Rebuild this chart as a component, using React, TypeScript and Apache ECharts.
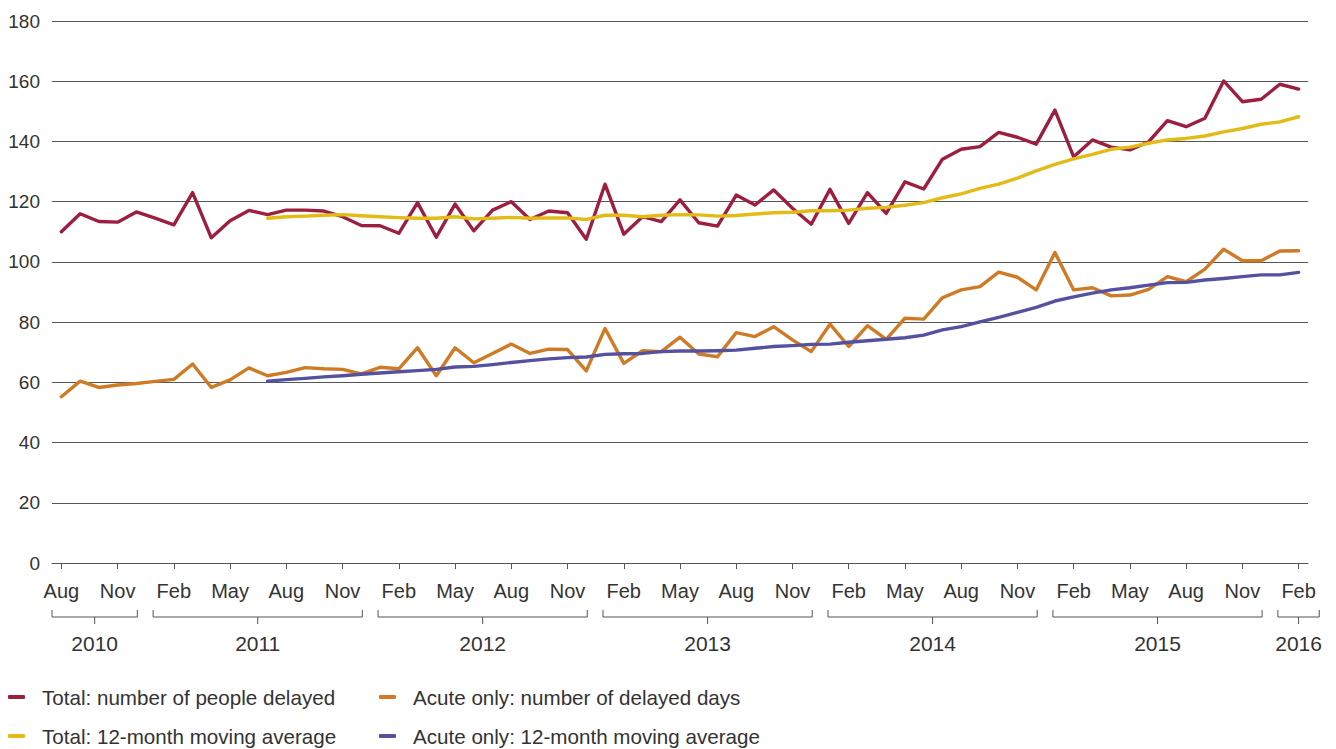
import React, { useEffect, useRef } from "react";
import * as echarts from "echarts";

const MONTHS = ["Jan", "Feb", "Mar", "Apr", "May", "Jun", "Jul", "Aug", "Sep", "Oct", "Nov", "Dec"];

// Aug 2010 .. Feb 2016 (67 months)
const categories: string[] = [];
for (let y = 2010, m = 7; y < 2016 || (y === 2016 && m <= 1); ) {
  categories.push(MONTHS[m] + " " + y);
  m++;
  if (m === 12) { m = 0; y++; }
}

const yTicks = { min: 0, max: 180, interval: 20 };

const totalDelayed = [
  110, 116, 113.4, 113.2, 116.6, 114.5, 112.3, 123, 108, 113.7,
  117.1, 115.7, 117.2, 117.2, 116.9, 115, 112.1, 112, 109.5, 119.7,
  108.2, 119.2, 110.3, 117.2, 120, 114.1, 116.9, 116.3, 107.5, 125.8,
  109.2, 115, 113.4, 120.6, 113, 111.9, 122.2, 118.9, 123.9, 117.8,
  112.5, 124.1, 112.8, 123, 116.1, 126.6, 124.2, 134.1, 137.4, 138.3,
  143, 141.4, 139.1, 150.4, 134.9, 140.5, 138.1, 137.2, 139.9, 146.9,
  144.9, 147.7, 160.1, 153.2, 154, 159, 157.4,
];

const totalMA = [
  null, null, null, null, null, null, null, null, null, null,
  null, 114.5, 115.0, 115.2, 115.5, 115.7, 115.3, 115.0, 114.7, 114.5,
  114.5, 115, 114.3, 114.5, 114.8, 114.5, 114.6, 114.6, 114.1, 115.5,
  115.5, 115, 115.5, 115.7, 115.6, 115.2, 115.4, 115.9, 116.3, 116.5,
  117, 117, 117.2, 117.8, 118.1, 118.8, 119.7, 121.3, 122.6, 124.4,
  125.8, 127.8, 130.2, 132.4, 134.2, 135.7, 137.4, 138.1, 139.4, 140.5,
  141, 141.8, 143.2, 144.3, 145.7, 146.5, 148.2,
];

const acuteDays = [
  55.2, 60.4, 58.3, 59.1, 59.6, 60.3, 61, 66.1, 58.3, 60.8,
  64.8, 62.2, 63.3, 64.9, 64.5, 64.3, 62.8, 65, 64.5, 71.5,
  62.2, 71.5, 66.5, 69.6, 72.7, 69.6, 71, 70.9, 63.8, 77.9,
  66.3, 70.5, 70.2, 75, 69.4, 68.5, 76.5, 75.2, 78.5, 74.1,
  70.2, 79.3, 71.9, 78.8, 74.3, 81.3, 81, 88.1, 90.7, 91.8,
  96.6, 94.9, 90.7, 103.1, 90.7, 91.4, 88.7, 89, 90.9, 95.1,
  93.4, 97.6, 104.2, 100.4, 100.4, 103.6, 103.7,
];

const acuteMA = [
  null, null, null, null, null, null, null, null, null, null,
  null, 60.4, 60.9, 61.3, 61.8, 62.2, 62.7, 63.1, 63.5, 63.9,
  64.3, 65.1, 65.3, 65.9, 66.6, 67.2, 67.8, 68.2, 68.4, 69.3,
  69.5, 69.6, 70.2, 70.4, 70.4, 70.5, 70.7, 71.3, 71.9, 72.2,
  72.6, 72.7, 73.3, 73.8, 74.3, 74.8, 75.7, 77.4, 78.5, 80.1,
  81.6, 83.2, 84.9, 87, 88.4, 89.6, 90.7, 91.4, 92.3, 93.1,
  93.2, 94, 94.5, 95.1, 95.7, 95.7, 96.5,
];

const seriesNames = [
  "Total: number of people delayed",
  "Total: 12-month moving average",
  "Acute only: number of delayed days",
  "Acute only: 12-month moving average",
];
const colors = ["#9c1f3f", "#e2bb16", "#cf7b26", "#5451a0"];

const FONT = "Liberation Sans";
const TEXT = "#333333";
const LINE = "#555555";

export default function App() {
  const ref = useRef<HTMLDivElement>(null);

  useEffect(() => {
    document.body.style.margin = "0";
    if (!ref.current) return;
    const chart = echarts.init(ref.current, undefined, { renderer: "svg" });

    const mk = (i: number, data: (number | null)[]) => ({
      name: seriesNames[i],
      type: "line",
      data,
      color: colors[i],
      showSymbol: false,
      symbol: "none",
      lineStyle: { width: 3.4, color: colors[i], join: "round", cap: "round" },
      connectNulls: false,
      z: i === 0 || i === 2 ? 3 : 4,
    });

    const legendAt = (i: number, left: number, top: number) => ({
      orient: "horizontal" as const,
      left,
      top,
      icon: "roundRect",
      itemWidth: 17,
      itemHeight: 4,
      textStyle: { fontFamily: FONT, fontSize: 20.6, color: TEXT, lineHeight: 22, padding: [0, 0, 0, 12] },
      selectedMode: false,
      data: [seriesNames[i]],
    });

    chart.setOption({
      animation: false,
      grid: { left: 52, right: 28, top: 21, bottom: 186, containLabel: false },
      xAxis: {
        type: "category",
        data: categories,
        boundaryGap: true,
        axisLine: { show: true, lineStyle: { color: LINE, width: 1 } },
        axisTick: { show: true, alignWithLabel: true, interval: 2, length: 6, lineStyle: { color: LINE } },
        axisLabel: {
          interval: 2,
          margin: 18,
          fontFamily: FONT,
          fontSize: 20,
          color: TEXT,
          formatter: (v: string) => v.split(" ")[0],
        },
        splitLine: { show: false },
      },
      yAxis: {
        type: "value",
        min: yTicks.min,
        max: yTicks.max,
        interval: yTicks.interval,
        axisLine: { show: false },
        axisTick: { show: false },
        axisLabel: { margin: 12, fontFamily: FONT, fontSize: 19, color: TEXT },
        splitLine: { show: true, lineStyle: { color: LINE, width: 1 } },
      },
      legend: [
        legendAt(0, 3, 681),
        legendAt(2, 374, 681),
        legendAt(1, 3, 720),
        legendAt(3, 374, 720),
      ],
      series: [mk(0, totalDelayed), mk(1, totalMA), mk(2, acuteDays), mk(3, acuteMA)],
    });

    // Year brackets below the month labels
    const years: { year: string; first: number; last: number }[] = [];
    categories.forEach((c, i) => {
      const yr = c.split(" ")[1];
      const g = years[years.length - 1];
      if (g && g.year === yr) g.last = i;
      else years.push({ year: yr, first: i, last: i });
    });
    const px = (i: number) => chart.convertToPixel({ xAxisIndex: 0 }, categories[i]) as number;
    const band = px(1) - px(0);
    const y0 = chart.convertToPixel({ yAxisIndex: 0 }, 0) as number;
    const elements: any[] = [];
    years.forEach((g) => {
      const partialStart = !categories[g.first].startsWith("Jan");
      const partialEnd = !categories[g.last].startsWith("Dec");
      const x1 = partialStart ? px(g.first) - band / 2 : px(g.first) - 2;
      const x2 = partialEnd ? px(g.last) + band * 1.1 : px(g.last) + 1;
      const cx = (x1 + x2) / 2;
      elements.push({
        type: "polyline",
        shape: { points: [[x1, y0 + 47], [x1, y0 + 54], [x2, y0 + 54], [x2, y0 + 47]] },
        style: { stroke: LINE, lineWidth: 1, fill: null },
        silent: true,
      });
      elements.push({
        type: "line",
        shape: { x1: cx, y1: y0 + 54, x2: cx, y2: y0 + 61 },
        style: { stroke: LINE, lineWidth: 1 },
        silent: true,
      });
      elements.push({
        type: "text",
        x: cx,
        y: y0 + 80,
        style: {
          text: g.year,
          fontFamily: FONT,
          fontSize: 21,
          fill: TEXT,
          align: "center",
          verticalAlign: "middle",
        },
        silent: true,
      });
    });
    chart.setOption({ graphic: elements });

    return () => chart.dispose();
  }, []);

  return <div ref={ref} style={{ width: 1336, height: 749 }} />;
}
